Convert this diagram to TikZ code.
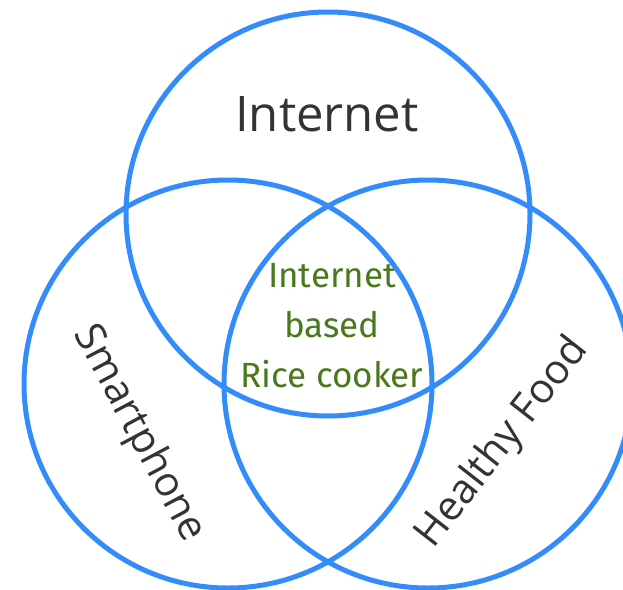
\documentclass[tikz,border=0pt]{standalone}
\usepackage{fontspec}
\setmainfont{Open Sans}
\newfontfamily\greenfont{Fira Sans}
\definecolor{vblue}{RGB}{52,140,250}
\definecolor{vgreen}{RGB}{74,120,28}
\definecolor{vtext}{RGB}{51,51,51}
\begin{document}
\begin{tikzpicture}[x=1pt,y=-1pt,
  vcircle/.style={draw=vblue,line width=5pt},
  setlabel/.style={text=vtext,font=\fontsize{49}{52}\selectfont,inner sep=0pt},
  sidelabel/.style={text=vtext,font=\fontsize{41}{44}\selectfont,inner sep=0pt},
  corelabel/.style={text=vgreen,font=\greenfont\fontsize{35}{50}\selectfont,align=center,inner sep=0pt}]
\useasboundingbox (0,0) rectangle (623,589);
\begin{scope}
\clip (0,0) rectangle (623,589);
\draw[vcircle] (328,214) circle[radius=202] coordinate (top);
\draw[vcircle] (228,384) circle[radius=204] coordinate (left);
\draw[vcircle] (428,384) circle[radius=204] coordinate (right);
\end{scope}
\node[setlabel] (internet) at (327,114) {Internet};
\node[sidelabel,rotate=-62] (smart) at (139,434) {Smartphone};
\node[sidelabel,rotate=52] (food) at (503,443) {Healthy Food};
\node[corelabel] (core) at (332,326) {Internet\\based\\Rice cooker};
\end{tikzpicture}
\end{document}
